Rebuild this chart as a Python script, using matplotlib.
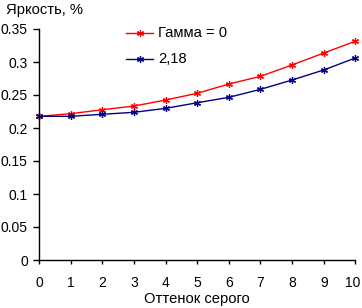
import matplotlib
matplotlib.use("Agg")
import matplotlib.pyplot as plt
from matplotlib.lines import Line2D
from matplotlib.transforms import ScaledTranslation

plt.rcParams['font.family'] = ['Liberation Sans', 'DejaVu Sans']

x = list(range(11))
gamma0 = [0.2177, 0.2217, 0.2277, 0.2333, 0.2424, 0.2526, 0.2667, 0.2783, 0.2955, 0.3136, 0.3314]
gamma218 = [0.2177, 0.2177, 0.2208, 0.2238, 0.2298, 0.2383, 0.2465, 0.2586, 0.2727, 0.2879, 0.3061]
yticks = [0, 0.05, 0.1, 0.15, 0.2, 0.25, 0.3, 0.35]
ytick_labels = ["0", "0.05", "0.1", "0.15", "0.2", "0.25", "0.3", "0.35"]
series_names = ["Гамма = 0", "2,18"]
colors = ['#FF0000', '#000080']

FS = 10.6
TFS = 10
W, H = 362, 308
fig = plt.figure(figsize=(W / 100, H / 100), dpi=100)
L, R, B, T = 39.3, 355.3, 260, 29
ax = fig.add_axes([L / W, 1 - B / H, (R - L) / W, (B - T) / H])

mk = (6, 2, 0)
for vals, c, name in zip([gamma0, gamma218], colors, series_names):
    ax.plot(x, vals, color=c, lw=1.0, marker=mk, ms=5, mew=0.9, label=name, clip_on=False)

ax.set_xlim(0, 10)
ax.set_ylim(0, 0.35)
ax.set_xticks(x)
ax.set_xticklabels([str(v) for v in x], fontsize=TFS)
ax.set_yticks(yticks)
ax.set_yticklabels(ytick_labels, fontsize=TFS)
for s in ['top', 'right']:
    ax.spines[s].set_visible(False)
for s in ['left', 'bottom']:
    ax.spines[s].set_linewidth(1.0)
    ax.spines[s].set_color('black')
ax.tick_params(axis='x', direction='out', length=3.2, width=1, pad=8)
ax.tick_params(axis='y', direction='out', length=4, width=1, pad=4.3)

# nudge the last x tick label so it stays inside the figure
last = ax.get_xticklabels()[-1]
last.set_transform(last.get_transform() + ScaledTranslation(-3 / 100, 0, fig.dpi_scale_trans))

ax.set_xlabel("Оттенок серого", fontsize=FS, labelpad=1.5)
fig.text(6 / W, 1 - 10 / H, "Яркость, %", fontsize=FS, va='center', ha='left')

# legend drawn manually in figure pixel coords
for i, (c, name) in enumerate(zip(colors, series_names)):
    yy = 1 - (33 + 26 * i) / H
    fig.add_artist(Line2D([126 / W, 153 / W], [yy, yy], color=c, lw=1.0, transform=fig.transFigure))
    fig.add_artist(Line2D([139.5 / W], [yy], color=c, marker=mk, ms=5, mew=0.9, transform=fig.transFigure))
    fig.text(158 / W, yy, name, fontsize=FS, va='center', ha='left')

fig.savefig("out.png", dpi=100)
